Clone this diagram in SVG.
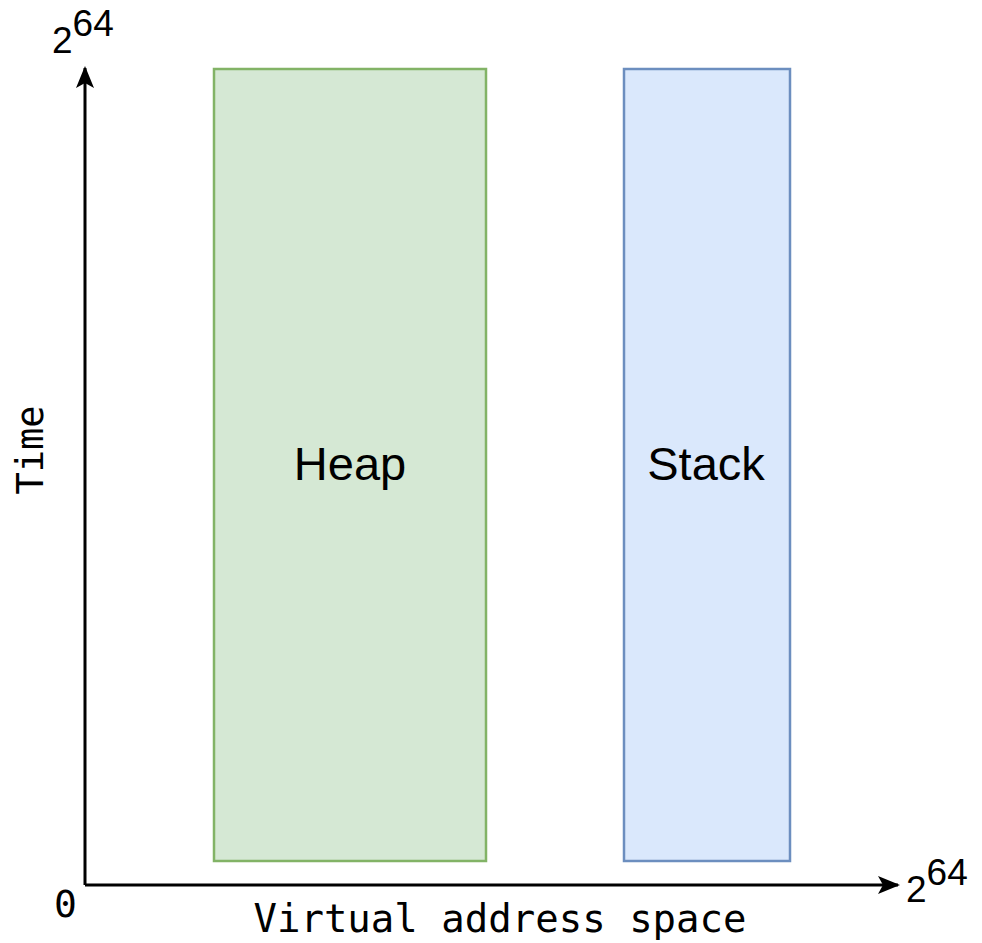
<svg xmlns="http://www.w3.org/2000/svg" width="982" height="943" viewBox="0 0 982 943">
<style>
.mono{font-family:"DejaVu Sans Mono",monospace;fill:#000}
.sans{font-family:"Liberation Sans",Arial,sans-serif;fill:#000}
.axis{stroke:#000;stroke-width:3;fill:none}
</style>
<defs>
<marker id="arr" markerWidth="22" markerHeight="22" refX="20" refY="11" orient="auto" markerUnits="userSpaceOnUse" viewBox="0 0 22 22">
<path d="M0,2 L22,11 L0,20 L5,11 Z" fill="#000"/>
</marker>
</defs>
<rect width="982" height="943" fill="#fff"/>
<g id="heap">
<rect x="214" y="69" width="272" height="792" fill="#d5e8d4" stroke="#82b366" stroke-width="2.5"/>
<text x="350" y="480" class="sans" font-size="47" text-anchor="middle">Heap</text>
</g>
<g id="stack">
<rect x="624" y="69" width="166" height="792" fill="#dae8fc" stroke="#6c8ebf" stroke-width="2.5"/>
<text x="706" y="480" class="sans" font-size="47" text-anchor="middle">Stack</text>
</g>
<g id="connectors">
<path class="axis" d="M85,885 L85,68" marker-end="url(#arr)"/>
<path class="axis" d="M85,885 L898,885" marker-end="url(#arr)"/>
</g>
<g id="labels">
<text x="52" y="53" class="sans" font-size="37">2<tspan dy="-17">64</tspan></text>
<text x="906" y="902" class="sans" font-size="37">2<tspan dy="-17">64</tspan></text>
<text x="54" y="917" class="mono" font-size="38">0</text>
<text x="500" y="932" class="mono" font-size="39" text-anchor="middle">Virtual address space</text>
<text transform="translate(43,450) rotate(-90)" class="mono" font-size="37" text-anchor="middle">Time</text>
</g>
</svg>
